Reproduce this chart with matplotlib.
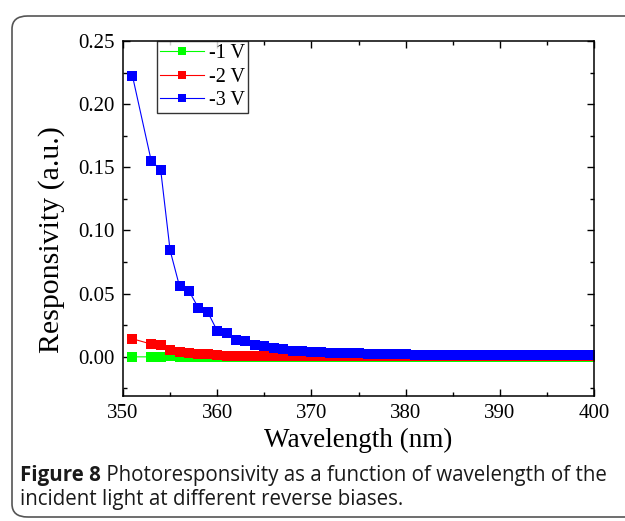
import matplotlib
matplotlib.use('Agg')
import matplotlib.pyplot as plt
from matplotlib.patches import FancyBboxPatch
from matplotlib.ticker import MultipleLocator

# data
wavelength = [351, 353, 354, 355, 356, 357, 358, 359, 360, 361, 362, 363, 364,
              365, 366, 367, 368, 369, 370, 371, 372, 373, 374, 375, 376, 377,
              378, 379, 380, 381, 382, 383, 384, 385, 386, 387, 388, 389, 390,
              391, 392, 393, 394, 395, 396, 397, 398, 399, 400]
resp_3v = [0.2225, 0.155, 0.148, 0.0842, 0.0558, 0.0521, 0.0387, 0.0353, 0.0205,
           0.0190, 0.0132, 0.0124, 0.0095, 0.0082, 0.0066, 0.0064, 0.0047, 0.0045,
           0.0040, 0.0038, 0.0032, 0.0028, 0.0026, 0.0026, 0.0021, 0.0020, 0.0019,
           0.0018, 0.0018, 0.0017, 0.0017, 0.0016, 0.0016, 0.0015, 0.0015, 0.0015,
           0.0014, 0.0014, 0.0014, 0.0014, 0.0013, 0.0013, 0.0013, 0.0013, 0.0013,
           0.0013, 0.0013, 0.0013, 0.0013]
resp_2v = [0.0142, 0.0100, 0.0095, 0.0055, 0.0037, 0.0029, 0.0021, 0.0021, 0.0010,
           0.0009, 0.0008, 0.0008, 0.0008, 0.0007, 0.0006, 0.0006, 0.0005, 0.0005,
           0.0005, 0.0005, 0.0004, 0.0004, 0.0004, 0.0004, 0.0004, 0.0003, 0.0003,
           0.0003, 0.0003, 0.0003, 0.0003, 0.0003, 0.0003, 0.0002, 0.0002, 0.0002,
           0.0002, 0.0002, 0.0002, 0.0002, 0.0002, 0.0002, 0.0002, 0.0002, 0.0002,
           0.0002, 0.0002, 0.0002, 0.0002]
resp_1v = [-0.0001, -0.0001, -0.0001, 0.0003, 0.0001, 0.0000, -0.0001, -0.0001,
           -0.0001, -0.0001, -0.0001, -0.0001, -0.0001, -0.0001, -0.0001, -0.0001,
           -0.0001, -0.0001, -0.0001, -0.0001, -0.0001, -0.0001, -0.0001, -0.0001,
           -0.0001, -0.0001, -0.0001, -0.0001, -0.0001, -0.0001, -0.0001, -0.0001,
           -0.0001, -0.0001, -0.0001, -0.0001, -0.0001, -0.0001, -0.0001, -0.0001,
           -0.0001, -0.0001, -0.0001, -0.0001, -0.0001, -0.0001, -0.0001, -0.0001,
           -0.0001]
labels = ['-1 V', '-2 V', '-3 V']
colors = ['#00ff00', '#ff0000', '#0000ff']

caption_bold = 'Figure 8'
caption_rest = ' Photoresponsivity as a function of wavelength of the'
caption_line2 = 'incident light at different reverse biases.'

plt.rc('font', family=['Liberation Serif', 'DejaVu Serif'])

fig = plt.figure(figsize=[6.25, 5.21], dpi=100)

# rounded frame round the figure (open on the right)
frame = FancyBboxPatch((12/625, 4/521), 1.2, 1 - 20/521,
                       boxstyle='round,pad=0,rounding_size=0.025',
                       transform=fig.transFigure, fill=False,
                       edgecolor='#555555', linewidth=1.2, clip_on=False)
fig.patches.append(frame)

ax = fig.add_axes([123/625, 1 - 396/521, 471/625, 355/521])
for y, lab, c in zip([resp_1v, resp_2v, resp_3v], labels, colors):
    ax.plot(wavelength, y, color=c, lw=0.8, marker='s', ms=6.5,
            markeredgewidth=0, label=lab)

ax.set_xlim(350, 400)
ax.set_ylim(-0.0311, 0.25)
ax.xaxis.set_major_locator(MultipleLocator(10))
ax.xaxis.set_minor_locator(MultipleLocator(5))
ax.yaxis.set_major_locator(MultipleLocator(0.05))
ax.yaxis.set_minor_locator(MultipleLocator(0.025))
ax.yaxis.set_major_formatter(plt.FormatStrFormatter('%.2f'))
ax.tick_params(which='both', direction='in', top=True, right=True,
               labelsize=15, width=1.0, pad=6)
ax.tick_params(which='major', length=5)
ax.tick_params(which='minor', length=3)
for s in ax.spines.values():
    s.set_linewidth(1.1)

ax.set_xlabel('Wavelength (nm)', fontsize=19.5, labelpad=3)
ax.set_ylabel('Responsivity (a.u.)', fontsize=21.5)
ax.yaxis.set_label_coords(-0.123, 0.44)

leg = ax.legend(loc='upper left', bbox_to_anchor=(0.072, 1.0), fontsize=14.5,
                frameon=True, fancybox=False, edgecolor='black',
                handlelength=2.2, handletextpad=0.25, borderpad=0.15,
                labelspacing=0.22, borderaxespad=0, markerscale=0.95)
leg.get_frame().set_linewidth(1.0)

# caption
t = fig.text(20/625, 1 - 476/521, caption_bold, fontsize=14.8, fontweight='bold',
             family='Open Sans', va='center', color='#1a1a1a')
fig.canvas.draw()
bb = t.get_window_extent()
fig.text(bb.x1/625, 1 - 476/521, caption_rest, fontsize=14.8,
         family='Open Sans', va='center', color='#1a1a1a')
fig.text(20/625, 1 - 500/521, caption_line2, fontsize=14.8,
         family='Open Sans', va='center', color='#1a1a1a')

fig.savefig('out.png', dpi=100)
